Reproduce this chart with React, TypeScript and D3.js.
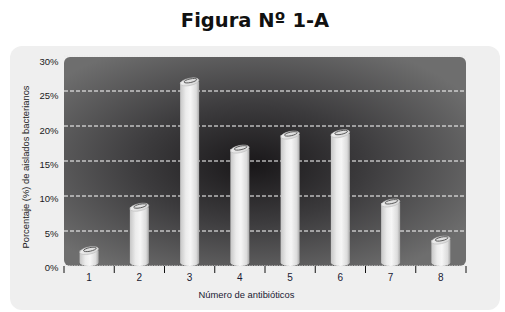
import React from "react";
import * as d3 from "d3";

const categories = ["1", "2", "3", "4", "5", "6", "7", "8"];
const values = [2.2, 8.4, 26.3, 16.7, 18.7, 18.9, 9.0, 3.7];
const yTicks = [0, 5, 10, 15, 20, 25, 30];
const title = "Figura Nº 1-A";
const xTitle = "Número de antibióticos";
const yTitle = "Porcentaje (%) de aislados bacterianos";

const W = 505;
const H = 312;
const plot = { left: 64, right: 466, top: 56, bottom: 266 };

export default function App() {
  const x = d3.scaleBand<string>().domain(categories).range([plot.left, plot.right]).padding(0);
  const y = d3.scaleLinear().domain([0, 30]).range([plot.bottom, plot.top]);
  const yLab = d3.scaleLinear().domain([0, 30]).range([plot.bottom + 5, plot.top + 9]);
  const bw = 19;
  const capRy = 3.6;
  const font = "'Liberation Sans', Arial, sans-serif";

  return (
    <svg width={W} height={H} style={{ position: "absolute", left: 0, top: 0 }} xmlns="http://www.w3.org/2000/svg">
      <defs>
        <radialGradient id="bg" cx="0.47" cy="0.5" r="0.62" fx="0.47" fy="0.52">
          <stop offset="0" stopColor="#191719" />
          <stop offset="0.45" stopColor="#3c3b3d" />
          <stop offset="1" stopColor="#6e6e6e" />
        </radialGradient>
        <linearGradient id="cyl" x1="0" x2="1" y1="0" y2="0">
          <stop offset="0" stopColor="#c6c6c6" />
          <stop offset="0.3" stopColor="#ececec" />
          <stop offset="0.55" stopColor="#f6f6f6" />
          <stop offset="0.85" stopColor="#dcdcdc" />
          <stop offset="1" stopColor="#a8a8a8" />
        </linearGradient>
        <linearGradient id="cap" x1="0" x2="1" y1="0" y2="1">
          <stop offset="0" stopColor="#f4f4f4" />
          <stop offset="1" stopColor="#d4d4d4" />
        </linearGradient>
      </defs>
      <rect x={0} y={0} width={W} height={H} fill="#ffffff" />
      <text x={255} y={26.5} textAnchor="middle" fontFamily="'DejaVu Sans', Verdana, sans-serif" fontWeight="bold" fontSize={19.5} fill="#111">
        {title}
      </text>
      <rect x={10} y={46} width={490} height={264} rx={12} ry={12} fill="#efefef" />
      <rect
        x={plot.left}
        y={plot.top + 1}
        width={plot.right - plot.left}
        height={plot.bottom - plot.top - 1}
        rx={6}
        ry={6}
        fill="url(#bg)"
      />
      {yTicks.map((t) => (
        <line
          key={"g" + t}
          x1={plot.left}
          x2={plot.right}
          y1={y(t)}
          y2={y(t)}
          stroke={t === 30 || t === 0 ? "#e8e8e8" : "#ffffff"}
          strokeWidth={1}
          strokeDasharray={t === 30 || t === 0 ? "1.5 1" : "4 2"}
        />
      ))}
      {categories.map((c, i) => {
        const cx = (x(c) as number) + x.bandwidth() / 2;
        const yt = y(values[i]);
        const yb = plot.bottom - capRy;
        const x0 = cx - bw / 2;
        return (
          <g key={"b" + c}>
            <path
              d={`M${x0},${yt} L${x0},${yb} A${bw / 2},${capRy} 0 0 0 ${x0 + bw},${yb} L${x0 + bw},${yt} Z`}
              fill="url(#cyl)"
            />
            <ellipse
              cx={cx}
              cy={yt}
              rx={bw / 2}
              ry={capRy}
              transform={`rotate(-12 ${cx} ${yt})`}
              fill="url(#cap)"
              stroke="#bdbdbd"
              strokeWidth={0.6}
            />
            <ellipse
              cx={cx + 1}
              cy={yt - 1}
              rx={bw / 2 - 3}
              ry={capRy - 1.8}
              transform={`rotate(-12 ${cx} ${yt})`}
              fill="#e0e0e0"
              stroke="#555"
              strokeWidth={0.9}
            />
          </g>
        );
      })}
      {d3.range(categories.length + 1).map((k) => {
        const xx = plot.left + k * x.bandwidth();
        return <line key={"t" + k} x1={xx} x2={xx} y1={plot.bottom} y2={plot.bottom + 7} stroke="#111" strokeWidth={1} />;
      })}
      {categories.map((c) => (
        <text
          key={"xl" + c}
          x={(x(c) as number) + x.bandwidth() / 2}
          y={plot.bottom + 14.5}
          textAnchor="middle"
          fontFamily={font}
          fontSize={10}
          fill="#1a1a33"
        >
          {c}
        </text>
      ))}
      {yTicks.map((t) => (
        <text
          key={"yl" + t}
          x={58.5}
          y={yLab(t)}
          textAnchor="end"
          fontFamily={font}
          fontSize={9.5}
          fill="#1a1a22"
        >
          {t + "%"}
        </text>
      ))}
      <text x={246.5} y={297.5} textAnchor="middle" fontFamily={font} fontSize={9.4} fill="#1a1a33">
        {xTitle}
      </text>
      <text
        transform={`translate(29,167) rotate(-90)`}
        textAnchor="middle"
        fontFamily={font}
        fontSize={9.4}
        fill="#1a1a22"
      >
        {yTitle}
      </text>
    </svg>
  );
}
